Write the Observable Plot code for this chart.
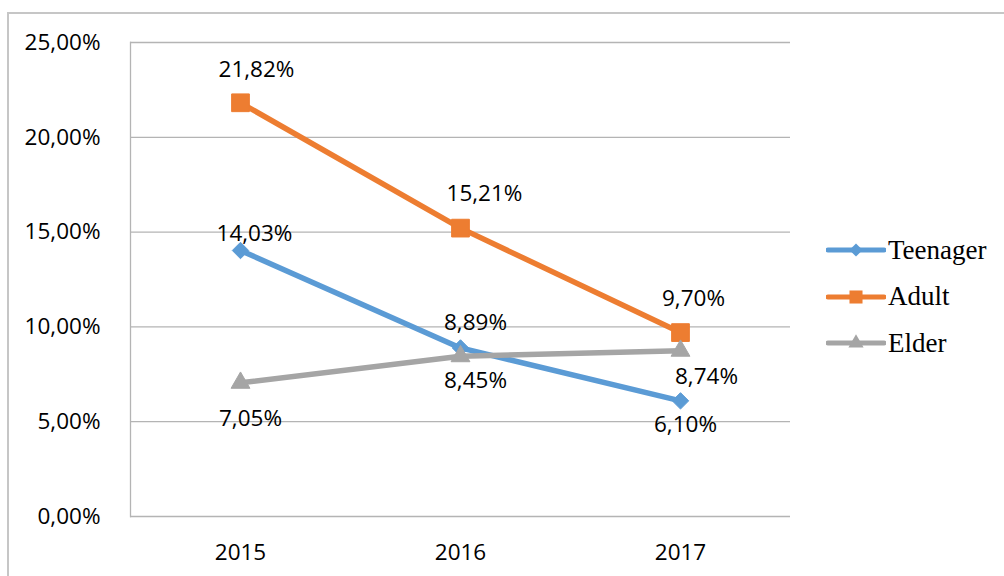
<!DOCTYPE html>
<html>
<head>
<meta charset="utf-8">
<script src="https://cdn.jsdelivr.net/npm/d3@7"></script>
<script src="https://cdn.jsdelivr.net/npm/@observablehq/plot@0.6"></script>
<style>
  html, body { margin: 0; padding: 0; background: #fff; }
  #wrap { position: relative; width: 1004px; height: 576px; overflow: hidden; }
  #border { position: absolute; left: 7px; top: 12px; width: 1100px; height: 700px; border: 2px solid #c6c6c6; box-sizing: border-box; }
  #chart { position: absolute; left: 0; top: 0; }
  #legend { position: absolute; left: 826px; top: 227px; font-family: "Liberation Serif", "Times New Roman", serif; font-size: 27px; color: #000; }
  .item { display: flex; align-items: center; height: 46.5px; }
  .item svg { margin-right: 2px; }
</style>
</head>
<body>
<div id="wrap">
  <div id="border"></div>
  <div id="chart"></div>
  <div id="legend"></div>
</div>
<script>
// ---- data ----
const years = ["2015", "2016", "2017"];
const seriesNames = ["Teenager", "Adult", "Elder"];
const teenager = [0.1403, 0.0889, 0.0610];
const adult = [0.2182, 0.1521, 0.0970];
const elder = [0.0705, 0.0845, 0.0874];
const yTicks = [0, 0.05, 0.10, 0.15, 0.20, 0.25];

// ---- styles ----
const colors = {Teenager: "#5B9BD5", Adult: "#ED7D31", Elder: "#A5A5A5"};
const symbols = {Teenager: "diamond2", Adult: "square", Elder: "triangle"};
const radii = {Teenager: 7.4, Adult: 10, Elder: 7};
// label offsets [dx, dy] per point
const labelOffsets = {
  Teenager: [[14, -17], [15, -25], [5, 24]],
  Adult: [[16, -33], [24, -34], [13, -34]],
  Elder: [[10, 36], [15, 25], [26, 26]]
};

const values = {Teenager: teenager, Adult: adult, Elder: elder};
const table = seriesNames.flatMap(s => years.map((y, i) => ({series: s, year: y, value: values[s][i], idx: i})));

const pct = d => (d * 100).toFixed(2).replace(".", ",") + "%";
const font = "'Open Sans', 'Noto Sans', sans-serif";
const fs = 22.5;

const marks = [
  Plot.ruleY(yTicks, {stroke: "#b4b4b4", strokeWidth: 1.3}),
  Plot.axisY({ticks: yTicks, tickSize: 0, tickPadding: 30, tickFormat: pct, fontSize: fs, fill: "#000", label: null}),
  Plot.axisX({tickSize: 0, tickPadding: 28, fontSize: fs, fill: "#000", label: null}),
  Plot.frame({anchor: "left", stroke: "#b4b4b4", strokeWidth: 1.3}),
  Plot.line(table, {x: "year", y: "value", z: "series", stroke: d => colors[d.series], strokeWidth: 5.5, strokeLinejoin: "round"})
];
for (const s of seriesNames) {
  marks.push(Plot.dot(table.filter(d => d.series === s), {x: "year", y: "value", symbol: () => symbols[s], r: radii[s], fill: colors[s], stroke: colors[s], strokeWidth: 1}));
}
for (const s of seriesNames) {
  labelOffsets[s].forEach(([dx, dy], i) => {
    marks.push(Plot.text(table.filter(d => d.series === s && d.idx === i), {x: "year", y: "value", text: d => pct(d.value), dx, dy, fontSize: fs, fill: "#000"}));
  });
}

const chart = Plot.plot({
  width: 1004,
  height: 576,
  marginLeft: 130,
  marginRight: 214,
  marginTop: 42,
  marginBottom: 60,
  style: {fontFamily: font, background: "transparent", overflow: "visible"},
  x: {type: "point", domain: years, padding: 0.5},
  y: {domain: [0, 0.25]},
  symbol: {type: "identity"},
  marks
});
document.getElementById("chart").appendChild(chart);

// ---- legend ----
const legend = document.getElementById("legend");
const legendSym = {Teenager: d3.symbolDiamond2, Adult: d3.symbolSquare, Elder: d3.symbolTriangle};
const legendSize = {Teenager: 110, Adult: 170, Elder: 100};
for (const s of seriesNames) {
  const item = document.createElement("div");
  item.className = "item";
  const svg = d3.create("svg").attr("width", 60).attr("height", 24);
  svg.append("line").attr("x1", 2).attr("x2", 58).attr("y1", 12).attr("y2", 12)
    .attr("stroke", colors[s]).attr("stroke-width", 5).attr("stroke-linecap", "round");
  svg.append("path").attr("d", d3.symbol(legendSym[s], legendSize[s])()).attr("transform", "translate(30,12)")
    .attr("fill", colors[s]);
  item.appendChild(svg.node());
  const span = document.createElement("span");
  span.textContent = s;
  item.appendChild(span);
  legend.appendChild(item);
}
</script>
</body>
</html>
